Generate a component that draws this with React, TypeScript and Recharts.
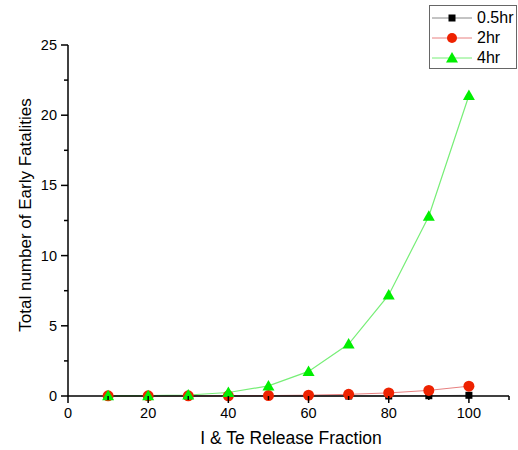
import { Line, LineChart, XAxis, YAxis } from "recharts";

const releaseFraction = [10, 20, 30, 40, 50, 60, 70, 80, 90, 100];
const halfHour = [0, 0, 0, 0, 0, 0, 0, 0, 0.02, 0.05];
const twoHour = [0.01, 0.01, 0.01, 0.01, 0.03, 0.06, 0.12, 0.22, 0.4, 0.7];
const fourHour = [0.01, 0.02, 0.07, 0.25, 0.72, 1.75, 3.7, 7.2, 12.8, 21.4];

const xTicks = [0, 10, 20, 30, 40, 50, 60, 70, 80, 90, 100, 110];
const yTicks = [0, 2.5, 5, 7.5, 10, 12.5, 15, 17.5, 20, 22.5, 25];

const data = releaseFraction.map((x, i) => ({
  x,
  h05: halfHour[i],
  h2: twoHour[i],
  h4: fourHour[i],
}));

const FONT = "'Liberation Sans', Arial, sans-serif";

const XTick = (props: any) => {
  const { x, y, payload } = props;
  const major = payload.value % 20 === 0 && payload.value <= 100;
  return (
    <g>
      <line x1={x} x2={x} y1={y} y2={y + (major ? 7 : 4)} stroke="#000" strokeWidth={1.5} />
      {major && (
        <text x={x} y={y + 17} dy="0.35em" textAnchor="middle" fontSize={14.5} fill="#000" fontFamily={FONT}>
          {payload.value}
        </text>
      )}
    </g>
  );
};

const YTick = (props: any) => {
  const { x, y, payload } = props;
  const major = payload.value % 5 === 0;
  return (
    <g>
      <line x1={x - (major ? 7 : 4)} x2={x} y1={y} y2={y} stroke="#000" strokeWidth={1.5} />
      {major && (
        <text x={x - 11} y={y} dy="0.35em" textAnchor="end" fontSize={14.5} fill="#000" fontFamily={FONT}>
          {payload.value}
        </text>
      )}
    </g>
  );
};

const Square = (props: any) => {
  const { cx, cy, index } = props;
  return <rect key={`s${index}`} x={cx - 3.5} y={cy - 3.5} width={7} height={7} fill="#000" />;
};
const Circle = (props: any) => {
  const { cx, cy, index } = props;
  return <circle key={`c${index}`} cx={cx} cy={cy} r={5.5} fill="#ee2200" />;
};
const Triangle = (props: any) => {
  const { cx, cy, index } = props;
  return (
    <polygon
      key={`t${index}`}
      points={`${cx},${cy - 6} ${cx - 6},${cy + 4.5} ${cx + 6},${cy + 4.5}`}
      fill="#00ee00"
    />
  );
};

const YLabel = () => (
  <text
    x={25}
    y={215}
    transform="rotate(-90 25 215)"
    textAnchor="middle"
    dy="0.35em"
    fontSize={17}
    fill="#000"
    fontFamily={FONT}
  >
    Total number of Early Fatalities
  </text>
);

const XLabel = () => (
  <text x={291} y={438} textAnchor="middle" dy="0.35em" fontSize={17.5} fill="#000" fontFamily={FONT}>
    I &amp; Te Release Fraction
  </text>
);

const legendItems = [
  { name: "0.5hr", line: "#888", marker: <rect x={18.5} y={6.5} width={7} height={7} fill="#000" /> },
  { name: "2hr", line: "#e88080", marker: <circle cx={22} cy={10} r={5} fill="#ee2200" /> },
  { name: "4hr", line: "#77ee77", marker: <polygon points="22,4 16,14.5 28,14.5" fill="#00ee00" /> },
];

export default function App() {
  return (
    <div style={{ position: "absolute", left: 0, top: 0, width: 518, height: 450, background: "#fff" }}>
      <LineChart width={518} height={450} data={data} margin={{ top: 45, right: 9, bottom: 4, left: 0 }}>
        <XAxis
          dataKey="x"
          type="number"
          domain={[0, 110]}
          ticks={xTicks}
          interval={0}
          tickSize={0}
          tickMargin={0}
          tickLine={false}
          tick={<XTick />}
          height={50}
          axisLine={{ stroke: "#000", strokeWidth: 1.5 }}
          label={<XLabel />}
        />
        <YAxis
          type="number"
          domain={[0, 25]}
          ticks={yTicks}
          interval={0}
          tickSize={0}
          tickMargin={0}
          tickLine={false}
          tick={<YTick />}
          width={68}
          axisLine={{ stroke: "#000", strokeWidth: 1.5 }}
          label={<YLabel />}
        />
        <Line dataKey="h05" stroke="#888" strokeWidth={1} dot={<Square />} activeDot={false} isAnimationActive={false} />
        <Line dataKey="h2" stroke="#e88080" strokeWidth={1} dot={<Circle />} activeDot={false} isAnimationActive={false} />
        <Line dataKey="h4" stroke="#77ee77" strokeWidth={1.2} dot={<Triangle />} activeDot={false} isAnimationActive={false} />
      </LineChart>
      <div
        style={{
          position: "absolute",
          left: 429,
          top: 5,
          width: 88,
          height: 64,
          border: "1px solid #666",
          background: "#fff",
          fontFamily: FONT,
          fontSize: 16,
          boxSizing: "border-box",
          paddingTop: 2,
        }}
      >
        {legendItems.map((item) => (
          <div key={item.name} style={{ display: "flex", alignItems: "center", height: 20 }}>
            <svg width={47} height={20} style={{ flex: "none" }}>
              <line x1={2} x2={42} y1={10} y2={10} stroke={item.line} strokeWidth={1} />
              {item.marker}
            </svg>
            <span style={{ lineHeight: "20px" }}>{item.name}</span>
          </div>
        ))}
      </div>
    </div>
  );
}
